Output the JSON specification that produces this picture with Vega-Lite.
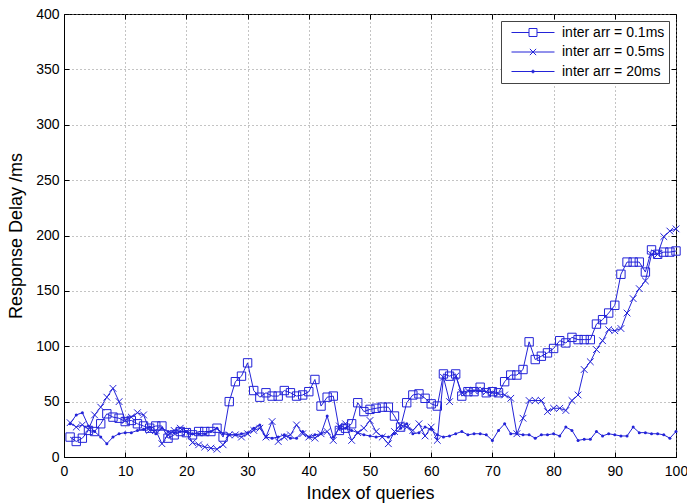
{
  "$schema": "https://vega.github.io/schema/vega-lite/v6.json",
  "width": 612,
  "height": 443,
  "autosize": {"type": "none"},
  "padding": {"left": 64, "top": 14, "right": 11, "bottom": 47},
  "background": "white",
  "data": {"values": [
    {"q":1,"a":18,"b":31,"c":30},{"q":2,"a":14,"b":27,"c":38},{"q":3,"a":17,"b":29,"c":40},{"q":4,"a":24,"b":25,"c":28},{"q":5,"a":23,"b":38,"c":23},
    {"q":6,"a":30,"b":45,"c":18},{"q":7,"a":39,"b":54,"c":12},{"q":8,"a":36,"b":62,"c":18},{"q":9,"a":35,"b":50,"c":21},{"q":10,"a":32,"b":33,"c":22},
    {"q":11,"a":33,"b":36,"c":22},{"q":12,"a":30,"b":40,"c":24},{"q":13,"a":28,"b":38,"c":25},{"q":14,"a":26,"b":24,"c":27},{"q":15,"a":28,"b":24,"c":21},
    {"q":16,"a":28,"b":12,"c":26},{"q":17,"a":17,"b":20,"c":23},{"q":18,"a":20,"b":24,"c":22},{"q":19,"a":23,"b":26,"c":23},{"q":20,"a":22,"b":23,"c":23},
    {"q":21,"a":20,"b":13,"c":21},{"q":22,"a":23,"b":11,"c":21},{"q":23,"a":23,"b":9,"c":21},{"q":24,"a":23,"b":8,"c":23},{"q":25,"a":26,"b":7,"c":26},
    {"q":26,"a":18,"b":11,"c":21},{"q":27,"a":50,"b":20,"c":20},{"q":28,"a":68,"b":20,"c":20},{"q":29,"a":73,"b":18,"c":21},{"q":30,"a":85,"b":21,"c":22},
    {"q":31,"a":60,"b":24,"c":26},{"q":32,"a":54,"b":26,"c":29},{"q":33,"a":58,"b":18,"c":18},{"q":34,"a":55,"b":32,"c":17},{"q":35,"a":55,"b":14,"c":18},
    {"q":36,"a":60,"b":18,"c":20},{"q":37,"a":58,"b":20,"c":17},{"q":38,"a":55,"b":29,"c":17},{"q":39,"a":56,"b":21,"c":23},{"q":40,"a":59,"b":18,"c":18},
    {"q":41,"a":70,"b":17,"c":20},{"q":42,"a":46,"b":21,"c":21},{"q":43,"a":54,"b":23,"c":37},{"q":44,"a":55,"b":15,"c":18},{"q":45,"a":24,"b":28,"c":26},
    {"q":46,"a":26,"b":30,"c":26},{"q":47,"a":30,"b":15,"c":24},{"q":48,"a":49,"b":22,"c":22},{"q":49,"a":41,"b":26,"c":20},{"q":50,"a":43,"b":33,"c":19},
    {"q":51,"a":44,"b":23,"c":18},{"q":52,"a":45,"b":18,"c":19},{"q":53,"a":45,"b":12,"c":18},{"q":54,"a":37,"b":23,"c":21},{"q":55,"a":27,"b":29,"c":26},
    {"q":56,"a":49,"b":27,"c":30},{"q":57,"a":56,"b":24,"c":21},{"q":58,"a":57,"b":30,"c":22},{"q":59,"a":53,"b":19,"c":27},{"q":60,"a":48,"b":27,"c":25},
    {"q":61,"a":46,"b":15,"c":20},{"q":62,"a":75,"b":72,"c":18},{"q":63,"a":73,"b":50,"c":19},{"q":64,"a":75,"b":73,"c":21},{"q":65,"a":55,"b":58,"c":23},
    {"q":66,"a":59,"b":60,"c":20},{"q":67,"a":59,"b":60,"c":21},{"q":68,"a":63,"b":60,"c":21},{"q":69,"a":58,"b":59,"c":20},{"q":70,"a":59,"b":58,"c":15},
    {"q":71,"a":58,"b":57,"c":24},{"q":72,"a":68,"b":56,"c":30},{"q":73,"a":74,"b":53,"c":21},{"q":74,"a":74,"b":21,"c":21},{"q":75,"a":79,"b":35,"c":20},
    {"q":76,"a":104,"b":51,"c":20},{"q":77,"a":88,"b":51,"c":17},{"q":78,"a":91,"b":51,"c":20},{"q":79,"a":94,"b":41,"c":20},{"q":80,"a":98,"b":44,"c":21},
    {"q":81,"a":105,"b":44,"c":19},{"q":82,"a":103,"b":42,"c":27},{"q":83,"a":108,"b":51,"c":24},{"q":84,"a":106,"b":56,"c":15},{"q":85,"a":106,"b":79,"c":16},
    {"q":86,"a":106,"b":86,"c":16},{"q":87,"a":120,"b":97,"c":23},{"q":88,"a":124,"b":105,"c":19},{"q":89,"a":130,"b":115,"c":21},{"q":90,"a":137,"b":114,"c":20},
    {"q":91,"a":165,"b":116,"c":19},{"q":92,"a":176,"b":130,"c":19},{"q":93,"a":176,"b":143,"c":27},{"q":94,"a":176,"b":152,"c":22},{"q":95,"a":167,"b":159,"c":22},
    {"q":96,"a":187,"b":183,"c":21},{"q":97,"a":183,"b":183,"c":21},{"q":98,"a":185,"b":199,"c":20},{"q":99,"a":185,"b":204,"c":17},{"q":100,"a":186,"b":206,"c":23}
  ]},
  "transform": [{"fold": ["a", "b", "c"], "as": ["s", "v"]}],
  "config": {
    "view": {"stroke": "black", "strokeWidth": 1},
    "font": "Liberation Sans",
    "axis": {
      "labelFont": "Liberation Sans",
      "labelFontSize": 14,
      "labelColor": "black",
      "titleFont": "Liberation Sans",
      "titleFontSize": 18,
      "titleFontWeight": "normal",
      "titleColor": "black",
      "domainColor": "black",
      "tickColor": "black",
      "tickSize": -5
    }
  },
  "resolve": {"axis": {"x": "independent", "y": "independent"}},
  "layer": [
    {
      "mark": {"type": "line", "strokeWidth": 1},
      "encoding": {
        "x": {"field": "q", "type": "quantitative", "scale": {"domain": [0, 100], "nice": false},
          "axis": {"values": [0,10,20,30,40,50,60,70,80,90,100], "title": "Index of queries", "labelPadding": 12, "titlePadding": 6,
            "grid": true, "gridDash": [1, 3], "gridColor": "#888888", "gridOpacity": 1, "labelFlush": false}},
        "y": {"field": "v", "type": "quantitative", "scale": {"domain": [0, 400], "nice": false},
          "axis": {"values": [0,50,100,150,200,250,300,350,400], "title": "Response Delay /ms", "labelPadding": 10, "titlePadding": 10,
            "grid": true, "gridDash": [1, 3], "gridColor": "#888888", "gridOpacity": 1}},
        "color": {"field": "s", "type": "nominal",
          "scale": {"domain": ["a", "b", "c"], "range": ["#2323d8", "#2323d8", "#2323d8"]},
          "legend": {
            "title": null,
            "orient": "top-right",
            "offset": 7,
            "strokeColor": "#444444",
            "fillColor": "white",
            "padding": 4,
            "rowPadding": 4.5,
            "labelFont": "Liberation Sans",
            "labelFontSize": 14,
            "labelColor": "black",
            "symbolSize": 196,
            "symbolOffset": 20.5,
            "labelOffset": 21.5,
            "symbolStrokeWidth": 1,
            "symbolType": "M-1,0H1",
            "labelExpr": "datum.value == 'a' ? 'inter arr = 0.1ms' : datum.value == 'b' ? 'inter arr = 0.5ms' : 'inter arr = 20ms'",
            "encode": {
              "symbols": {
                "update": {
                  "shape": {"signal": "datum.value == 'a' ? 'M-3.07,0H-0.57M0.57,0H3.07M-0.57,-0.57H0.57V0.57H-0.57Z' : datum.value == 'b' ? 'M-3.07,0H3.07M-0.45,-0.45L0.45,0.45M-0.45,0.45L0.45,-0.45' : 'M-3.07,0H3.07M-0.2,0A0.2,0.2 0 1,0 0.2,0A0.2,0.2 0 1,0 -0.2,0Z'"},
                  "fill": {"value": "transparent"},
                  "stroke": {"value": "#2323d8"},
                  "strokeWidth": {"value": 1}
                }
              }
            }
          }
        }
      }
    },
    {
      "transform": [{"filter": "datum.s == 'a'"}],
      "mark": {"type": "point", "shape": "square", "size": 70, "filled": false, "color": "#2323d8", "strokeWidth": 1, "opacity": 1},
      "encoding": {
        "x": {"field": "q", "type": "quantitative", "axis": null},
        "y": {"field": "v", "type": "quantitative", "axis": null}
      }
    },
    {
      "transform": [{"filter": "datum.s == 'b'"}],
      "mark": {"type": "point", "shape": "M-1,-1L1,1M-1,1L1,-1", "size": 45, "filled": false, "color": "#2323d8", "strokeWidth": 1, "opacity": 1},
      "encoding": {
        "x": {"field": "q", "type": "quantitative", "axis": null},
        "y": {"field": "v", "type": "quantitative", "axis": null}
      }
    },
    {
      "transform": [{"filter": "datum.s == 'c'"}],
      "mark": {"type": "circle", "size": 9, "color": "#2323d8", "opacity": 1},
      "encoding": {
        "x": {"field": "q", "type": "quantitative", "axis": null},
        "y": {"field": "v", "type": "quantitative", "axis": null}
      }
    },
    {
      "mark": {"type": "line", "opacity": 0},
      "encoding": {
        "x": {"field": "q", "type": "quantitative",
          "axis": {"orient": "top", "values": [0,10,20,30,40,50,60,70,80,90,100], "labels": false, "title": null, "grid": false, "domain": false}},
        "y": {"field": "v", "type": "quantitative",
          "axis": {"orient": "right", "values": [0,50,100,150,200,250,300,350,400], "labels": false, "title": null, "grid": false, "domain": false}}
      }
    }
  ]
}
